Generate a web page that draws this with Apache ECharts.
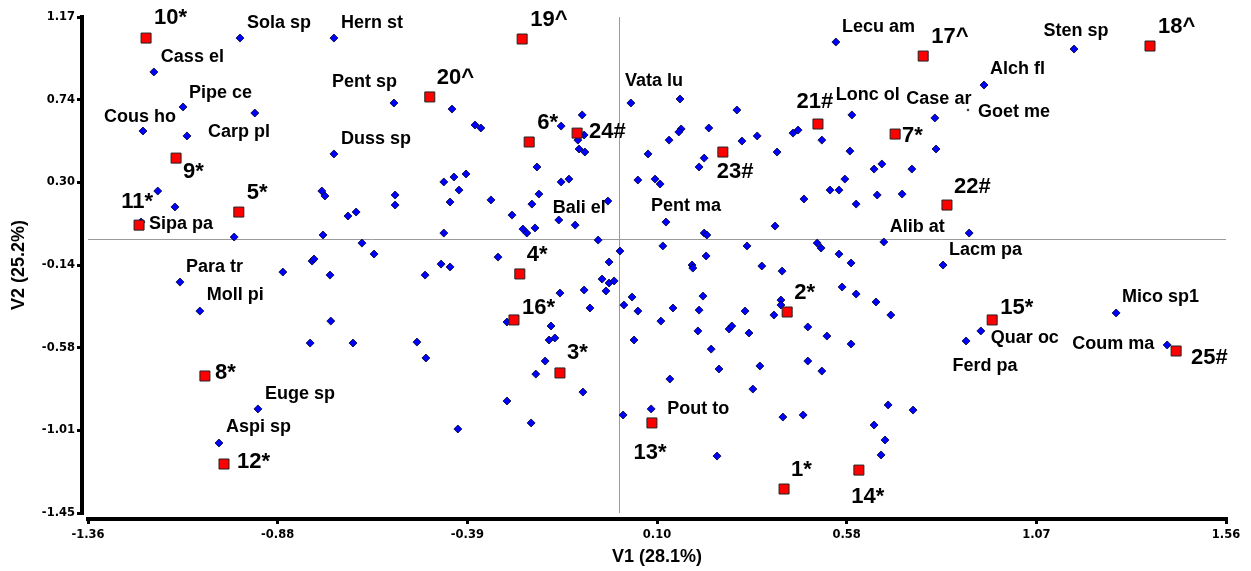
<!DOCTYPE html>
<html><head><meta charset="utf-8">
<script src="https://cdn.jsdelivr.net/npm/echarts@6/dist/echarts.min.js"></script>
<style>html,body{margin:0;padding:0;background:#fff}#c{width:1251px;height:571px}</style>
</head><body><div id="c"></div>
<script>
// ---- axes ----
const xMin = -1.364, xMax = 1.556;
const yMin = -1.4467, yMax = 1.1733;
const xTickLabels = ['-1.36', '-0.88', '-0.39', '0.10', '0.58', '1.07', '1.56'];
const yTickLabels = ['-1.45', '-1.01', '-0.58', '-0.14', '0.30', '0.74', '1.17'];
const xTitle = 'V1 (28.1%)';
const yTitle = 'V2 (25.2%)';

// ---- labelled species (blue diamonds) ----
const speciesNames = ['Sola sp','Hern st','Cass el','Pipe ce','Cous ho','Carp pl','Sipa pa','Para tr','Moll pi','Euge sp','Aspi sp','Pent sp','Duss sp','Bali el','Vata lu','Pent ma','Pout to','Lecu am','Sten sp','Alch fl','Lonc ol','Case ar','Goet me','Alib at','Lacm pa','Quar oc','Ferd pa','Mico sp1','Coum ma'];
const speciesX = [-0.974,-0.733,-1.195,-1.120,-1.223,-1.110,-1.228,-1.128,-1.077,-0.928,-1.028,-0.579,-0.733,-0.156,0.029,0.119,0.081,0.555,1.166,0.935,0.596,0.809,0.894,0.678,0.830,0.927,0.889,1.274,1.405];
const speciesY = [1.062,1.062,0.883,0.698,0.571,0.545,0.090,-0.227,-0.380,-0.897,-1.077,0.719,0.450,0.101,0.719,0.090,-0.897,1.041,1.004,0.814,0.656,0.640,0.682,-0.015,-0.137,-0.485,-0.538,-0.390,-0.559];

// ---- unlabelled species (blue diamonds) ----
const otherX = [
 -0.936,-1.185,-1.141,-0.989,-0.764,-0.756,-0.576,-0.576,-0.697,-0.676,-0.761,-0.661,-0.630,-0.789,-0.784,-0.864,-0.743,-0.741,-0.794,-0.684,
 -0.430,-0.371,-0.356,-0.451,-0.425,-0.394,-0.412,-0.435,-0.330,-0.276,-0.451,-0.499,-0.458,-0.435,-0.312,
 -0.150,-0.096,-0.107,-0.091,-0.104,-0.089,-0.212,-0.150,-0.130,-0.207,-0.225,-0.030,
 -0.248,-0.238,-0.217,-0.114,-0.055,0.001,-0.027,-0.045,-0.027,-0.014,-0.091,-0.035,-0.153,-0.076,-0.176,-0.181,-0.166,-0.191,-0.215,-0.094,-0.227,-0.289,-0.289,-0.415,-0.520,-0.497,
 0.155,0.301,0.158,0.152,0.229,0.127,0.073,0.314,0.353,0.404,0.445,0.458,0.217,0.204,0.047,0.091,0.104,0.473,
 0.217,0.224,0.399,0.111,0.327,0.222,0.186,0.188,0.365,0.417,0.011,0.032,0.047,0.137,0.214,0.204,0.322,0.106,0.201,0.281,0.288,0.332,0.037,0.235,0.255,0.360,0.129,0.342,0.009,
 0.250,0.414,0.414,0.396,0.419,0.471,
 0.519,0.591,0.812,0.653,0.673,0.750,0.578,0.540,0.563,0.661,0.725,0.607,0.897,
 0.507,0.517,0.563,0.594,0.571,0.607,0.658,0.696,0.483,0.532,0.594,0.483,0.519,
 0.689,0.753,0.653,0.681,0.671
];
const otherY = [
 0.666,0.254,0.170,0.011,0.254,0.228,0.233,0.180,0.122,0.143,0.022,-0.021,-0.079,-0.116,-0.105,-0.174,-0.190,-0.433,-0.549,-0.549,
 0.687,0.603,0.587,0.302,0.328,0.344,0.259,0.196,0.207,0.127,0.032,-0.190,-0.132,-0.147,-0.095,
 0.597,0.656,0.523,0.550,0.476,0.460,0.381,0.302,0.317,0.238,0.185,0.201,
 0.053,0.032,0.059,0.074,-0.005,-0.063,-0.121,-0.211,-0.232,-0.221,-0.269,-0.274,-0.285,-0.364,-0.459,-0.533,-0.522,-0.644,-0.713,-0.808,-0.971,-0.438,-0.855,-1.003,-0.544,-0.628,
 0.740,0.682,0.582,0.566,0.587,0.523,0.450,0.518,0.545,0.460,0.560,0.576,0.428,0.381,0.312,0.317,0.291,0.212,
 0.032,0.022,0.069,-0.036,-0.036,-0.089,-0.137,-0.153,-0.142,-0.169,-0.348,-0.306,-0.380,-0.364,-0.301,-0.375,-0.380,-0.433,-0.485,-0.475,-0.459,-0.496,-0.533,-0.581,-0.686,-0.670,-0.739,-0.792,-0.929,
 -1.146,-0.322,-0.348,-0.401,-0.940,-0.929,
 0.523,0.465,0.476,0.370,0.397,0.370,0.317,0.259,0.259,0.233,0.238,0.185,0.032,
 -0.021,-0.047,-0.079,-0.126,-0.253,-0.290,-0.332,-0.401,-0.464,-0.512,-0.554,-0.644,-0.697,
 -0.876,-0.903,-0.982,-1.061,-1.140
];

// ---- sites (red squares) ----
const siteNames = ['1*','2*','3*','4*','5*','6*','7*','8*','9*','10*','11*','12*','13*','14*','15*','16*','17^','18^','19^','20^','21#','22#','23#','24#','25#'];
const siteX = [0.422,0.430,-0.153,-0.256,-0.977,-0.232,0.707,-1.064,-1.138,-1.215,-1.233,-1.015,0.083,0.614,0.956,-0.271,0.779,1.361,-0.250,-0.487,0.509,0.840,0.265,-0.109,1.428];
const siteY = [-1.320,-0.385,-0.707,-0.184,0.143,0.513,0.555,-0.723,0.428,1.062,0.074,-1.188,-0.971,-1.220,-0.427,-0.427,0.967,1.020,1.057,0.751,0.608,0.180,0.460,0.560,-0.591];

// ---- label placement (layout only): [align, dx, dy] ----
const labelLayout = {
 'Sola sp':['left',7,-15],'Hern st':['left',7,-15],'Cass el':['left',7,-15],'Pipe ce':['left',6,-14],
 'Cous ho':['center',-3,-14],'Carp pl':['left',21,-4],'Sipa pa':['left',8,2],'Para tr':['left',6,-15],
 'Moll pi':['left',7,-16],'Euge sp':['left',7,-15],'Aspi sp':['left',7,-16],'Pent sp':['right',3,-21],
 'Duss sp':['left',7,-15],'Bali el':['left',-6,-12],'Vata lu':['left',-6,-22],'Pent ma':['left',-15,-16],
 'Pout to':['left',16,0],'Lecu am':['left',6,-15],'Sten sp':['center',2,-18],'Alch fl':['left',6,-16],
 'Lonc ol':['left',-16,-20],'Case ar':['center',4,-19],'Goet me':['left',10,2],'Alib at':['left',6,-15],
 'Lacm pa':['left',6,-15],'Quar oc':['left',10,7],'Ferd pa':['center',19,25],'Mico sp1':['left',6,-16],
 'Coum ma':['right',-13,-1],
 '1*':['left',7,-19],'2*':['left',7,-19],'3*':['left',7,-20],'4*':['left',7,-19],'5*':['left',8,-19],
 '6*':['left',8,-19],'7*':['left',7,2],'8*':['left',10,-3],'9*':['left',7,14],'10*':['left',8,-20],
 '11*':['center',-2,-23],'12*':['left',13,-2],'13*':['center',-2,30],'14*':['center',9,27],
 '15*':['left',8,-12],'16*':['left',8,-12],'17^':['left',8,-19],'18^':['left',8,-19],'19^':['left',8,-19],
 '20^':['left',7,-19],'21#':['center',-3,-22],'22#':['left',7,-18],'23#':['left',-6,20],'24#':['left',12,-1],
 '25#':['left',15,7]
};

const FONT = '"Liberation Sans", Arial, sans-serif';
function makeLabel(name, size) {
  const l = labelLayout[name];
  return {
    show: true, formatter: name, position: 'inside',
    align: l[0], verticalAlign: 'middle', offset: [l[1], l[2]],
    fontFamily: FONT, fontWeight: 'bold', fontSize: size, color: '#000',
    textBorderWidth: 0, opacity: 1
  };
}

const xTicks = xTickLabels.map((_, i) => xMin + i * (xMax - xMin) / (xTickLabels.length - 1));
const yTicks = yTickLabels.map((_, i) => yMin + i * (yMax - yMin) / (yTickLabels.length - 1));
function nearestLabel(v, ticks, labels) {
  let best = 0;
  for (let i = 1; i < ticks.length; i++) if (Math.abs(ticks[i] - v) < Math.abs(ticks[best] - v)) best = i;
  return labels[best];
}

const blueStyle = { color: '#0000ff', borderColor: '#000022', borderWidth: 0.8, opacity: 1 };

const otherData = otherX.map((x, i) => [x, otherY[i]]);
const speciesData = speciesNames.map((n, i) => {
  const item = { name: n, value: [speciesX[i], speciesY[i]], label: makeLabel(n, 18) };
  if (n === 'Goet me') { item.symbolSize = 3; item.itemStyle = { color: '#222', borderWidth: 0, opacity: 1 }; }
  return item;
});
const siteData = siteNames.map((n, i) => ({ name: n, value: [siteX[i], siteY[i]], label: makeLabel(n, 22) }));

const axisCommon = {
  type: 'value',
  splitLine: { show: false },
  axisLine: { show: true, onZero: false, lineStyle: { color: '#000', width: 4, cap: 'square' } },
  nameLocation: 'middle',
  nameTextStyle: { fontFamily: FONT, fontWeight: 'bold', fontSize: 18, color: '#000' }
};
const tickFont = { fontFamily: '"DejaVu Sans", Verdana, sans-serif', fontWeight: 'bold', fontSize: 11.5, color: '#000' };

const option = {
  animation: false,
  backgroundColor: '#fff',
  grid: { left: 88, right: 25, top: 17, bottom: 58, containLabel: false },
  xAxis: Object.assign({}, axisCommon, {
    min: xMin, max: xMax, offset: 6, name: xTitle, nameGap: 29,
    axisTick: { show: true, customValues: xTicks, length: 5, lineStyle: { color: '#000', width: 3 } },
    axisLabel: Object.assign({ customValues: xTicks, margin: 10, formatter: v => nearestLabel(v, xTicks, xTickLabels) }, tickFont)
  }),
  yAxis: Object.assign({}, axisCommon, {
    min: yMin, max: yMax, offset: 6, name: yTitle, nameGap: 54,
    axisTick: { show: true, customValues: yTicks, length: 5, lineStyle: { color: '#000', width: 3 } },
    axisLabel: Object.assign({ customValues: yTicks, margin: 7, formatter: v => nearestLabel(v, yTicks, yTickLabels) }, tickFont)
  }),
  series: [
    {
      type: 'scatter', name: 'other', symbol: 'diamond', symbolSize: 8, z: 2,
      itemStyle: blueStyle, data: otherData, silent: true,
      markLine: {
        silent: true, symbol: ['none', 'none'], z: 1, animation: false,
        label: { show: false },
        lineStyle: { color: '#9a9a9a', width: 1, type: 'solid', opacity: 1 },
        data: [{ xAxis: 0 }, { yAxis: 0 }]
      }
    },
    {
      type: 'scatter', name: 'species', symbol: 'diamond', symbolSize: 8, z: 3,
      itemStyle: blueStyle, data: speciesData, silent: true
    },
    {
      type: 'scatter', name: 'sites', symbol: 'rect', symbolSize: 10, z: 4,
      itemStyle: { color: '#ff0000', borderColor: '#222', borderWidth: 1, opacity: 1 },
      data: siteData, silent: true
    }
  ]
};
echarts.init(document.getElementById('c'), null, { renderer: 'canvas' }).setOption(option);
</script>
</body></html>
